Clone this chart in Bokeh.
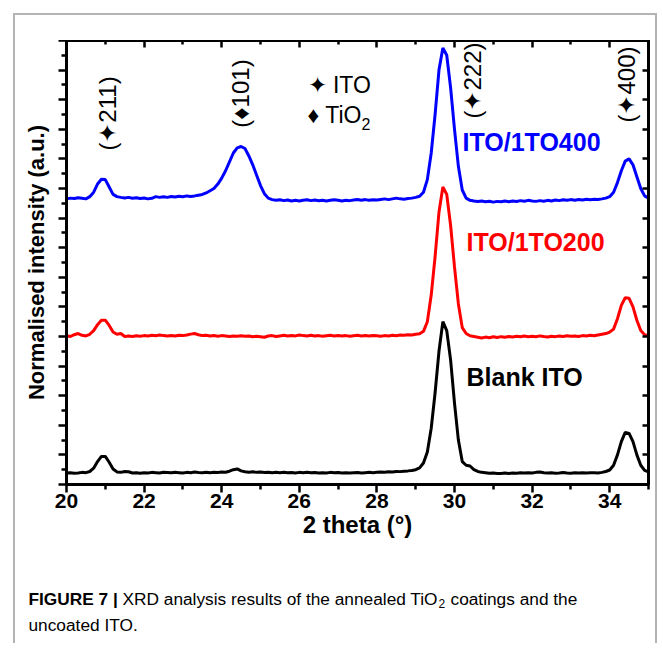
import math
from bokeh.plotting import figure
from bokeh.layouts import column
from bokeh.models import LinearAxis, FixedTicker, Label, Range1d, Spacer
from bokeh.embed import file_html
from bokeh.resources import INLINE

# ---------------- data ----------------
TWO_THETA = [
    20.0, 20.1, 20.2, 20.3, 20.4, 20.5, 20.6, 20.7, 20.8, 20.9,
    21.0, 21.1, 21.2, 21.3, 21.4, 21.5, 21.6, 21.7, 21.8, 21.9,
    22.0, 22.1, 22.2, 22.3, 22.4, 22.5, 22.6, 22.7, 22.8, 22.9,
    23.0, 23.1, 23.2, 23.3, 23.4, 23.5, 23.6, 23.7, 23.8, 23.9,
    24.0, 24.1, 24.2, 24.3, 24.4, 24.5, 24.6, 24.7, 24.8, 24.9,
    25.0, 25.1, 25.2, 25.3, 25.4, 25.5, 25.6, 25.7, 25.8, 25.9,
    26.0, 26.1, 26.2, 26.3, 26.4, 26.5, 26.6, 26.7, 26.8, 26.9,
    27.0, 27.1, 27.2, 27.3, 27.4, 27.5, 27.6, 27.7, 27.8, 27.9,
    28.0, 28.1, 28.2, 28.3, 28.4, 28.5, 28.6, 28.7, 28.8, 28.9,
    29.0, 29.1, 29.2, 29.3, 29.4, 29.5, 29.6, 29.7, 29.8, 29.9,
    30.0, 30.1, 30.2, 30.3, 30.4, 30.5, 30.6, 30.7, 30.8, 30.9,
    31.0, 31.1, 31.2, 31.3, 31.4, 31.5, 31.6, 31.7, 31.8, 31.9,
    32.0, 32.1, 32.2, 32.3, 32.4, 32.5, 32.6, 32.7, 32.8, 32.9,
    33.0, 33.1, 33.2, 33.3, 33.4, 33.5, 33.6, 33.7, 33.8, 33.9,
    34.0, 34.1, 34.2, 34.3, 34.4, 34.5, 34.6, 34.7, 34.8, 34.9,
    35.0,
]

BLANK_ITO = [
    0.078, 0.080, 0.076, 0.078, 0.082, 0.080, 0.088, 0.110, 0.155, 0.190,
    0.190, 0.150, 0.105, 0.085, 0.082, 0.088, 0.086, 0.078, 0.080, 0.076,
    0.080, 0.078, 0.082, 0.080, 0.078, 0.083, 0.081, 0.079, 0.082, 0.080,
    0.078, 0.082, 0.080, 0.084, 0.081, 0.079, 0.082, 0.080, 0.083, 0.081,
    0.084, 0.083, 0.090, 0.100, 0.105, 0.092, 0.086, 0.083, 0.086, 0.082,
    0.084, 0.081, 0.083, 0.079, 0.082, 0.080, 0.083, 0.079, 0.081, 0.078,
    0.082, 0.080, 0.083, 0.079, 0.081, 0.077, 0.080, 0.078, 0.082, 0.079,
    0.081, 0.078, 0.080, 0.077, 0.079, 0.081, 0.078, 0.080, 0.082, 0.080,
    0.083, 0.085, 0.083, 0.086, 0.085, 0.088, 0.087, 0.090, 0.092, 0.095,
    0.100, 0.112, 0.145, 0.220, 0.380, 0.620, 0.900, 1.100, 1.040, 0.840,
    0.550, 0.300, 0.155, 0.130, 0.125, 0.100, 0.088, 0.082, 0.080, 0.076,
    0.078, 0.075, 0.074, 0.077, 0.075, 0.078, 0.076, 0.079, 0.077, 0.080,
    0.078, 0.082, 0.085, 0.080, 0.077, 0.079, 0.076, 0.078, 0.081, 0.078,
    0.076, 0.079, 0.077, 0.080, 0.077, 0.079, 0.080, 0.078, 0.082, 0.088,
    0.098, 0.130, 0.200, 0.290, 0.352, 0.345, 0.290, 0.200, 0.130, 0.095,
    0.085,
]

ITO_1TO200 = [
    1.005, 1.000, 1.012, 1.020, 1.008, 1.004, 1.015, 1.040, 1.080, 1.110,
    1.110, 1.075, 1.030, 1.015, 1.020, 1.000, 1.003, 1.000, 1.005, 1.002,
    1.006, 1.004, 1.008, 1.005, 1.010, 1.006, 1.003, 1.007, 1.004, 1.009,
    1.006, 1.010, 1.016, 1.020, 1.012, 1.006, 1.009, 1.004, 1.007, 1.002,
    1.006, 1.003, 1.000, 1.004, 1.002, 1.005, 1.001, 1.003, 0.998, 1.002,
    0.999, 0.995, 1.003, 1.006, 1.000, 1.004, 1.008, 1.003, 1.007, 1.004,
    1.010, 1.006, 1.004, 1.008, 1.003, 1.006, 1.002, 1.005, 1.008, 1.004,
    1.007, 1.003, 1.006, 1.002, 1.005, 1.008, 1.004, 1.006, 1.003, 1.007,
    1.005, 1.002, 1.006, 1.004, 1.008, 1.005, 1.010, 1.008, 1.012, 1.010,
    1.015, 1.018, 1.035, 1.100, 1.280, 1.540, 1.840, 2.010, 1.960, 1.750,
    1.470, 1.220, 1.060, 1.020, 1.005, 1.000, 0.995, 0.990, 0.996, 0.992,
    0.998, 0.993, 0.999, 0.995, 1.000, 0.997, 1.002, 0.998, 1.003, 0.999,
    1.002, 0.998, 1.004, 1.000, 0.997, 1.002, 0.999, 1.004, 1.000, 1.005,
    1.001, 1.004, 1.000, 1.006, 1.003, 1.008, 1.005, 1.010, 1.015, 1.020,
    1.030, 1.050, 1.120, 1.210, 1.262, 1.258, 1.200, 1.110, 1.040, 1.012,
    1.005,
]

ITO_1TO400 = [
    1.930, 1.935, 1.932, 1.938, 1.934, 1.930, 1.945, 1.975, 2.030, 2.062,
    2.060, 2.010, 1.960, 1.945, 1.940, 1.936, 1.940, 1.934, 1.938, 1.932,
    1.936, 1.930, 1.934, 1.945, 1.940, 1.944, 1.940, 1.946, 1.942, 1.947,
    1.944, 1.950, 1.946, 1.950, 1.955, 1.960, 1.970, 1.985, 2.000, 2.030,
    2.070, 2.120, 2.180, 2.240, 2.275, 2.284, 2.270, 2.220, 2.160, 2.090,
    2.020, 1.965, 1.935, 1.925, 1.920, 1.924, 1.918, 1.922, 1.916, 1.920,
    1.915, 1.920, 1.924, 1.918, 1.922, 1.917, 1.921, 1.916, 1.920, 1.924,
    1.920, 1.915, 1.920, 1.918, 1.922, 1.926, 1.921, 1.925, 1.920, 1.924,
    1.922, 1.926, 1.930, 1.925, 1.930, 1.935, 1.930, 1.928, 1.932, 1.935,
    1.940, 1.948, 1.975, 2.060, 2.240, 2.500, 2.800, 2.950, 2.900, 2.680,
    2.400, 2.150, 1.990, 1.935, 1.920, 1.915, 1.912, 1.916, 1.910, 1.914,
    1.908, 1.913, 1.910, 1.915, 1.911, 1.916, 1.912, 1.918, 1.914, 1.920,
    1.916, 1.913, 1.918, 1.914, 1.920, 1.916, 1.922, 1.918, 1.924, 1.920,
    1.925, 1.921, 1.926, 1.922, 1.927, 1.924, 1.928, 1.926, 1.930, 1.935,
    1.945, 1.975, 2.040, 2.120, 2.185, 2.200, 2.160, 2.080, 2.000, 1.950,
    1.935,
]

SERIES_NAMES = ["Blank ITO", "ITO/1TO200", "ITO/1TO400"]
SERIES_COLORS = ["#000000", "#ff0000", "#0000ff"]

X_MAJOR = [20, 22, 24, 26, 28, 30, 32, 34]
X_MINOR = [21, 23, 25, 27, 29, 31, 33, 35]
Y_MAJOR = [0.0, 0.2, 0.4, 0.6, 0.8, 1.0, 1.2, 1.4, 1.6, 1.8, 2.0, 2.2, 2.4, 2.6, 2.8, 3.0]
Y_MINOR = [0.1, 0.3, 0.5, 0.7, 0.9, 1.1, 1.3, 1.5, 1.7, 1.9, 2.1, 2.3, 2.5, 2.7, 2.9]

PEAK_LABELS = ["(\u2726211)", "(\u2666101)", "(\u2726222)", "(\u2726400)"]

# ---------------- layout helpers (reference pixel -> data) ----------------
def dx(px):
    return 20 + (px - 66) / 38.8

def dy(py):
    return (486 - py) / 148.0

FONT = "Liberation Sans"
GREY = "2px solid #b4b4b4"

p = figure(frame_width=582, frame_height=444, x_range=Range1d(20, 35), y_range=Range1d(0, 3),
           output_backend="svg", toolbar_location=None,
           min_border_left=51, min_border_right=7, min_border_top=0, min_border_bottom=59,
           x_axis_label="2 theta (\u00b0)", y_axis_label="Normalised intensity (a.u.)")
p.xgrid.visible = False
p.ygrid.visible = False
p.outline_line_color = "black"
p.outline_line_width = 3
p.background_fill_color = "white"
p.border_fill_color = "white"

def hide_labels(ax):
    ax.major_label_text_color = None
    ax.major_label_text_font_size = "1px"
    ax.major_label_standoff = 0

xa = p.xaxis[0]
xa.ticker = FixedTicker(ticks=X_MAJOR, minor_ticks=X_MINOR)
xa.major_tick_out = 8
xa.major_tick_in = 0
xa.minor_tick_out = 5
xa.minor_tick_in = 0
xa.major_tick_line_width = 2.5
xa.minor_tick_line_width = 2.5
xa.axis_line_width = 3
xa.major_label_text_font = FONT
xa.major_label_text_font_style = "bold"
xa.major_label_text_font_size = "21px"
xa.major_label_text_color = "black"
xa.major_label_standoff = 1
xa.axis_label_text_font = FONT
xa.axis_label_text_font_style = "bold"
xa.axis_label_text_font_size = "24px"
xa.axis_label_text_color = "black"
xa.axis_label_standoff = 0

ya = p.yaxis[0]
ya.ticker = FixedTicker(ticks=Y_MAJOR, minor_ticks=Y_MINOR)
ya.major_tick_out = 8
ya.major_tick_in = 0
ya.minor_tick_out = 5
ya.minor_tick_in = 0
ya.major_tick_line_width = 2.5
ya.minor_tick_line_width = 2.5
ya.axis_line_width = 3
hide_labels(ya)
ya.axis_label_text_font = FONT
ya.axis_label_text_font_style = "bold"
ya.axis_label_text_font_size = "22px"
ya.axis_label_text_color = "black"
ya.axis_label_standoff = 10

top = LinearAxis(ticker=FixedTicker(ticks=X_MAJOR, minor_ticks=X_MINOR))
top.major_tick_in = 7
top.major_tick_out = 0
top.minor_tick_in = 4
top.minor_tick_out = 0
top.major_tick_line_width = 2.5
top.minor_tick_line_width = 2.5
top.axis_line_width = 3
hide_labels(top)
p.add_layout(top, "above")

right = LinearAxis(ticker=FixedTicker(ticks=Y_MAJOR, minor_ticks=[]))
right.major_tick_in = 6
right.major_tick_out = 0
right.major_tick_line_width = 2.5
right.axis_line_width = 3
hide_labels(right)
p.add_layout(right, "right")

for ys, c in zip([BLANK_ITO, ITO_1TO200, ITO_1TO400], SERIES_COLORS):
    p.line(TWO_THETA, ys, line_color=c, line_width=3)

def lab(fig, text, x, y, size, style="normal", color="black", angle=0.0, align="left",
        baseline="middle", font=FONT):
    fig.add_layout(Label(x=x, y=y, text=text, text_font=font, text_font_size=size,
                         text_font_style=style, text_color=color, angle=angle,
                         text_align=align, text_baseline=baseline))

# peak annotations (rotated)
for t, (px, py) in zip(PEAK_LABELS, [(107, 115), (240, 95), (472, 82), (626, 86)]):
    lab(p, t, dx(px), dy(py), "24px", angle=math.pi / 2, align="center")

# phase legend
lab(p, "\u2726 ITO", dx(307), dy(86), "23px")
lab(p, "\u2666 TiO", dx(307), dy(116), "23px")
lab(p, "2", dx(361), dy(125), "16px")

# series labels
for name, c, (px, py) in zip(SERIES_NAMES, SERIES_COLORS, [(466, 378), (466, 243), (462, 143)]):
    lab(p, name, dx(px), dy(py), "25px", style="bold", color=c)

# ---------------- caption (own figure, pixel coordinates) ----------------
CAP_TOP = 545  # reference y where the caption panel starts
cap = figure(width=640, height=100, x_range=Range1d(0, 640), y_range=Range1d(100, 0),
             output_backend="svg", toolbar_location=None, x_axis_type=None, y_axis_type=None,
             min_border_left=0, min_border_right=0, min_border_top=0, min_border_bottom=0)
cap.outline_line_color = None
cap.background_fill_color = "white"
cap.border_fill_color = "white"
for fig in (p, cap):
    if "frame_align" in fig.properties():
        fig.frame_align = False

def cx(px):
    return px - 15

def cy(py):
    return py - CAP_TOP

lab(cap, "FIGURE 7 |", cx(28), cy(600), "17.3px", style="bold")
lab(cap, "XRD analysis results of the annealed TiO", cx(122), cy(600), "17.3px")
lab(cap, "2", cx(438), cy(605), "12px")
lab(cap, "coatings and the", cx(450), cy(600), "17.3px")
lab(cap, "uncoated ITO.", cx(28), cy(626), "17.3px")

layout = column(Spacer(width=640, height=25), p, cap, margin=(13, 0, 0, 13),
                styles={"border-left": GREY, "border-top": GREY, "border-right": GREY})

open("out.html", "w").write(file_html(layout, INLINE))
